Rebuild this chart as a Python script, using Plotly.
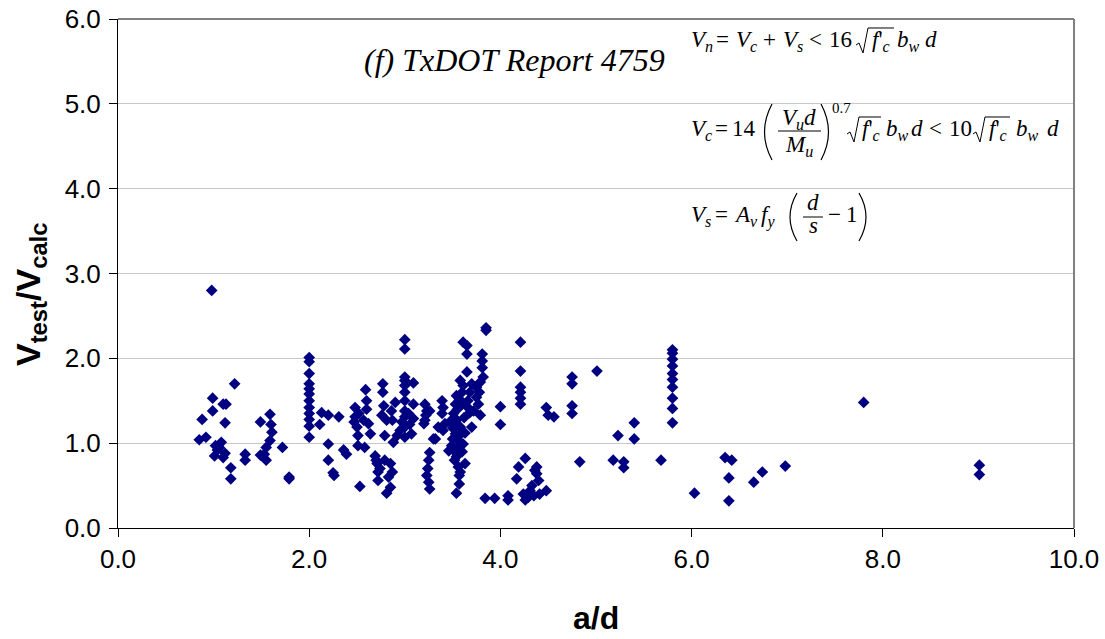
import plotly.graph_objects as go

# ---------------- data ----------------
a_d = [
    0.85, 0.88, 0.92, 0.98, 0.99, 0.99, 1.02, 1.08, 1.04, 1.01, 1.10, 1.06, 1.12,
    1.13, 1.10, 1.12, 1.18, 1.18, 1.22, 1.33, 1.33,
    1.49, 1.59, 1.60, 1.61, 1.59, 1.55, 1.49, 1.55, 1.53, 1.72, 1.79, 1.79,
    2.00, 2.00, 2.00, 2.00, 2.00, 2.00, 2.00, 2.00, 2.00, 2.00, 2.00, 2.00,
    2.13, 2.20, 2.11, 2.31, 2.20, 2.20, 2.25, 2.26, 2.36, 2.39,
    2.48, 2.48, 2.50, 2.51, 2.51, 2.53, 2.59, 2.60, 2.60, 2.57, 2.62, 2.64, 2.58, 2.47, 2.52,
    2.77, 2.77, 2.78, 2.76, 2.81, 2.79, 2.88, 2.90, 2.86, 2.87, 2.69, 2.71, 2.72, 2.72,
    2.79, 2.85, 2.87, 2.83, 2.81, 2.85, 2.70, 2.74,
    3.00, 3.00, 3.00, 3.00, 3.00, 3.00, 3.00, 3.00, 3.00, 3.00, 3.00,
    3.09, 3.09, 3.09, 3.07, 2.95, 2.92, 2.97, 3.04, 3.05,
    3.21, 3.23, 3.21, 3.20, 3.30, 3.26, 3.25, 3.23, 3.25, 3.26, 3.24, 3.26, 3.22,
    3.39, 3.40, 3.39, 3.35, 3.42, 3.40, 3.32, 3.46,
    3.54, 3.53, 3.51, 3.54, 3.58, 3.53, 3.56, 3.49, 3.53, 3.54, 3.56, 3.57, 3.57, 3.54,
    3.63, 3.60, 3.61, 3.65, 3.61, 3.65, 3.65, 3.66, 3.68, 3.70, 3.61, 3.58, 3.47, 3.50,
    3.52, 3.55, 3.57, 3.60, 3.62, 3.58, 3.55, 3.50, 3.63, 3.66, 3.68, 3.70, 3.55, 3.52,
    3.60, 3.58,
    3.75, 3.75, 3.77, 3.79, 3.81, 3.81, 3.81, 3.82, 3.79, 3.72, 3.85, 3.85, 3.78,
    4.00, 4.00, 4.21, 4.21, 4.21, 4.21, 4.21, 4.21, 4.48, 4.50, 4.56,
    3.84, 3.94, 4.08, 4.08, 4.26, 4.19, 4.17, 4.24, 4.26, 4.31, 4.33, 4.35, 4.38, 4.38,
    4.40, 4.41, 4.48, 4.36, 4.29,
    4.75, 4.75, 4.75, 4.75, 5.01, 4.83, 5.18, 5.23, 5.29, 5.29, 5.40, 5.40, 5.68,
    5.80, 5.80, 5.80, 5.80, 5.80, 5.80, 5.80, 5.80, 5.80, 5.80,
    6.03, 6.35, 6.42, 6.39, 6.39, 6.65, 6.74, 6.98, 7.80, 9.01, 9.01,
]
v_ratio = [
    1.04, 1.28, 1.07, 2.80, 1.53, 1.38, 0.97, 1.01, 0.92, 0.85, 0.83, 0.95, 0.88,
    1.46, 1.46, 1.24, 0.71, 0.58, 1.70, 0.87, 0.80,
    1.25, 1.34, 1.22, 1.13, 1.03, 0.95, 0.86, 0.80, 0.87, 0.95, 0.60, 0.58,
    2.01, 1.96, 1.82, 1.70, 1.64, 1.58, 1.50, 1.42, 1.35, 1.28, 1.20, 1.07,
    1.36, 1.33, 1.22, 1.31, 0.99, 0.80, 0.65, 0.62, 0.92, 0.87,
    1.42, 1.31, 1.19, 1.09, 0.97, 0.49, 1.63, 1.50, 1.40, 1.27, 1.23, 1.11, 0.95, 1.25, 1.35,
    1.70, 1.60, 1.44, 1.33, 1.27, 1.09, 1.01, 1.48, 1.38, 1.27, 0.85, 0.76, 0.66, 0.56,
    0.80, 0.76, 0.66, 0.60, 0.41, 0.48, 0.80, 0.70,
    2.22, 2.11, 1.78, 1.74, 1.68, 1.60, 1.50, 1.38, 1.31, 1.19, 1.07,
    1.71, 1.46, 1.29, 1.11, 1.15, 1.09, 1.25, 1.35, 1.22,
    1.46, 1.38, 1.27, 1.23, 1.05, 0.89, 0.80, 0.62, 0.54, 0.46, 0.70, 1.38, 1.33,
    1.50, 1.42, 1.35, 1.19, 1.23, 1.15, 1.05, 0.91,
    1.56, 1.46, 1.35, 1.27, 1.19, 1.11, 1.03, 0.97, 0.89, 0.84, 0.72, 0.62, 0.52, 0.41,
    0.76, 1.46, 1.68, 1.84, 2.19, 2.15, 2.05, 1.50, 1.36, 1.19, 0.99, 1.74, 1.25, 1.18,
    1.30, 1.40, 1.52, 1.60, 1.30, 1.10, 1.22, 1.05, 1.12, 1.42, 1.60, 1.70, 0.95, 0.80,
    0.90, 0.66,
    1.66, 1.54, 1.46, 1.33, 2.05, 1.97, 1.89, 1.78, 1.72, 1.38, 2.36, 2.33, 1.60,
    1.43, 1.22, 2.19, 1.85, 1.66, 1.60, 1.53, 1.46, 1.42, 1.33, 1.31,
    0.35, 0.35, 0.38, 0.33, 0.82, 0.72, 0.58, 0.40, 0.33, 0.44, 0.50, 0.38, 0.72, 0.64,
    0.56, 0.40, 0.44, 0.68, 0.36,
    1.78, 1.70, 1.44, 1.35, 1.85, 0.78, 0.80, 1.09, 0.78, 0.71, 1.24, 1.05, 0.80,
    2.10, 2.06, 1.99, 1.91, 1.82, 1.75, 1.66, 1.53, 1.41, 1.24,
    0.41, 0.83, 0.80, 0.59, 0.32, 0.54, 0.66, 0.73, 1.48, 0.74, 0.63,
]

x_ticks = [0, 2, 4, 6, 8, 10]
y_ticks = [0, 1, 2, 3, 4, 5, 6]

# ---------------- layout helpers (pixel -> paper) ----------------
W, H = 1105, 639
L, R, T, B = 118, 1074, 19, 528


def PX(p):
    return (p - L) / (R - L)


def PY(p):
    return (B - p) / (B - T)


def P(x, y):
    return f"{PX(x):.5f},{PY(y):.5f}"


SERIF = "Liberation Serif"
SANS = "Liberation Sans"
EQ = 23          # equation font size
YCORR = 2        # box-top correction for annotation placement

annotations = []
shapes = []


def tok(text, x, base, size=EQ, anchor="left"):
    annotations.append(dict(
        text=text, xref="paper", yref="paper", x=PX(x),
        y=PY(base - 0.891 * size - YCORR),
        xanchor=anchor, yanchor="top", showarrow=False, borderpad=0,
        font=dict(family=SERIF, size=size, color="black")))


def radical(x0, x1, top, bot):
    shapes.append(dict(
        type="path", xref="paper", yref="paper", layer="above",
        path=f"M {P(x0, bot - 8)} L {P(x0 + 3, bot - 10)} L {P(x0 + 7, bot)} "
             f"L {P(x0 + 12, top)} L {P(x1, top)}",
        line=dict(color="black", width=1)))


def paren(x_end, x_mid, top, bot):
    shapes.append(dict(
        type="path", xref="paper", yref="paper", layer="above",
        path=f"M {P(x_end, top)} Q {P(x_mid, (top + bot) / 2)} {P(x_end, bot)}",
        line=dict(color="black", width=1.2)))


def hline(x0, x1, y, color="black", width=1, layer="above"):
    shapes.append(dict(type="line", xref="paper", yref="paper", layer=layer,
                       x0=PX(x0), x1=PX(x1), y0=PY(y), y1=PY(y),
                       line=dict(color=color, width=width)))


def white_box(x0, x1, y0, y1):
    shapes.append(dict(type="rect", xref="paper", yref="paper", layer="between",
                       x0=PX(x0), x1=PX(x1), y0=PY(y1), y1=PY(y0),
                       fillcolor="white", line=dict(width=0)))


# plot border (top + right, grey)
shapes.append(dict(type="line", xref="paper", yref="paper", layer="above",
                   x0=0, x1=1, y0=1, y1=1, line=dict(color="#808080", width=2)))
shapes.append(dict(type="line", xref="paper", yref="paper", layer="above",
                   x0=1, x1=1, y0=0, y1=1, line=dict(color="#808080", width=2)))

# white backgrounds of the equation pictures
white_box(693, 1071, 88, 163)
white_box(693, 877, 168, 244)

Vi = "<i>V</i>"
fc = "<i>f</i>'<sub><i>c</i></sub>"
bw = "<i>b</i><sub><i>w</i></sub>"

# equation 1
b1 = 48
tok(Vi + "<sub><i>n</i></sub>", 690, b1)
tok("=", 715, b1)
tok(Vi + "<sub><i>c</i></sub>", 735, b1)
tok("+", 762, b1)
tok(Vi + "<sub><i>s</i></sub>", 782, b1)
tok("&lt;", 808, b1)
tok("16", 828, b1)
radical(856, 894, 28, b1 + 5)
tok(fc, 871, b1)
tok(bw, 896, b1)
tok("<i>d</i>", 924, b1)

# equation 2
b2 = 137
tok(Vi + "<sub><i>c</i></sub>", 690, b2)
tok("=", 714, b2)
tok("14", 731, b2)
paren(772, 757, 104, 160)
tok(Vi + "<sub><i>u</i></sub><i>d</i>", 799, 126, anchor="center")
hline(778, 821, 131)
tok("<i>M</i><sub><i>u</i></sub>", 799, 153, anchor="center")
paren(821, 836, 104, 160)
tok("0.7", 831, 114, size=15)
radical(847, 881, 117, b2 + 5)
tok(fc, 861, b2)
tok(bw, 885, b2)
tok("<i>d</i>", 910, b2)
tok("&lt;", 928, b2)
tok("10", 948, b2)
radical(973, 1010, 117, b2 + 5)
tok(fc, 988, b2)
tok(bw, 1015, b2)
tok("<i>d</i>", 1046, b2)

# equation 3
b3 = 223
tok(Vi + "<sub><i>s</i></sub>", 690, b3)
tok("=", 714, b3)
tok("<i>A</i><sub><i>v</i></sub>", 733, b3)
tok("<i>f</i><sub><i>y</i></sub>", 760, b3)
paren(797, 783, 193, 241)
tok("<i>d</i>", 813, 211, anchor="center")
hline(803, 823, 217)
tok("<i>s</i>", 813, 234, anchor="center")
tok("\u2212", 827, b3)
tok("1", 845, b3)
paren(859, 873, 193, 241)

# title text inside the plot
annotations.append(dict(
    text="<i>(f) TxDOT Report 4759</i>", xref="paper", yref="paper",
    x=PX(362), y=PY(60), xanchor="left", yanchor="middle", showarrow=False,
    font=dict(family=SERIF, size=32, color="black")))

# axis titles
annotations.append(dict(
    text="<b>V<sub>test</sub>/V<sub>calc</sub></b>", xref="paper", yref="paper",
    x=PX(30), y=PY(295), xanchor="center", yanchor="middle", textangle=-90,
    showarrow=False, font=dict(family=SANS, size=34, color="black")))
annotations.append(dict(
    text="<b>a/d</b>", xref="paper", yref="paper",
    x=PX(596), y=PY(618), xanchor="center", yanchor="middle",
    showarrow=False, font=dict(family=SANS, size=32, color="black")))

fig = go.Figure()
fig.add_trace(go.Scatter(
    x=a_d, y=v_ratio, mode="markers",
    marker=dict(symbol="diamond", size=9, color="#000080", line=dict(width=0)),
    showlegend=False, hoverinfo="x+y"))

fig.update_layout(
    width=W, height=H,
    margin=dict(l=L, r=W - R, t=T, b=H - B, pad=0, autoexpand=False),
    paper_bgcolor="white", plot_bgcolor="white",
    showlegend=False,
    annotations=annotations, shapes=shapes,
    xaxis=dict(range=[0, 10], tickvals=x_ticks, tickformat=".1f", automargin=False,
               showgrid=False, zeroline=False, showline=True, linecolor="black",
               linewidth=1, ticks="outside", ticklen=8, tickcolor="black",
               tickfont=dict(family=SANS, size=26, color="black"), fixedrange=True),
    yaxis=dict(range=[0, 6], tickvals=y_ticks, tickformat=".1f", automargin=False,
               showgrid=True, gridcolor="#c8c8c8", gridwidth=1,
               zeroline=False, showline=True, linecolor="black",
               linewidth=1, ticks="outside", ticklen=8, tickcolor="black",
               ticklabelstandoff=3,
               tickfont=dict(family=SANS, size=26, color="black"), fixedrange=True),
)

fig.write_html("out.html", config={"displayModeBar": False},
               post_script="document.body.style.margin='0';"
                           "document.body.style.overflow='hidden';")
